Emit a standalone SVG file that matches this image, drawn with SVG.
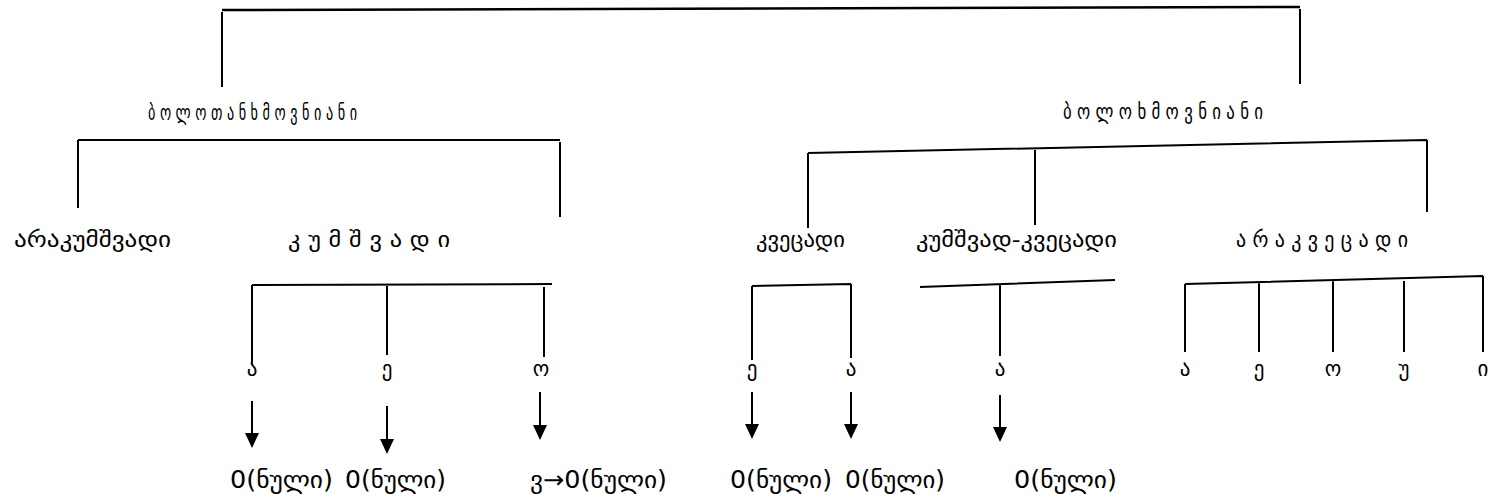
<svg xmlns="http://www.w3.org/2000/svg" width="1494" height="504" viewBox="0 0 1494 504">
<style>
text{font-family:"DejaVu Sans","Noto Sans",sans-serif;font-size:21px;fill:#000;}
.c{text-anchor:middle;}
.t{font-size:22px;}
.b{font-size:24px;}
.ln{stroke:#000;stroke-width:2;fill:none;}
.tk{stroke:#000;stroke-width:2.5;fill:none;}
.ah{fill:#000;}
</style>
<rect width="1494" height="504" fill="#fff"/>
<g id="connectors">
<path class="tk" d="M222,10 L1300,7"/>
<path class="ln" d="M222,12 V87 M1300,9 V84"/>
<path class="ln" d="M78,140 H560 M78,140 V208 M560,142 V217"/>
<path class="ln" d="M252,285 L552,284 M252,285 V364 M387,286 V355 M544,287 V357"/>
<path class="ln" d="M808,153 L1427,140 M808,153 V228 M1035,150 V225 M1427,140 V212"/>
<path class="ln" d="M752,286 L851,284 M752,286 V360 M851,284 V358"/>
<path class="ln" d="M920,287 L1115,280 M1000,284 V356"/>
<path class="ln" d="M1185,284 L1483,276 M1185,284 V352 M1259,282 V352 M1333,281 V352 M1404,281 V352 M1483,276 V352"/>
<path class="ln" d="M252,401 V434 M387,406 V440 M540,392 V426 M752,392 V425 M851,392 V425 M1000,395 V428"/>
<path class="ah" d="M245,433 L259,433 L252,448 Z M380,439 L394,439 L387,454 Z M533,425 L547,425 L540,440 Z M745,424 L759,424 L752,439 Z M844,424 L858,424 L851,439 Z M993,427 L1007,427 L1000,442 Z"/>
</g>
<g id="n-root1"><text class="t" x="148" y="120" textLength="209" lengthAdjust="spacingAndGlyphs">ბ ო ლ ო თ ა ნ ხ მ ო ვ ნ ი ა ნ ი</text></g>
<g id="n-root2"><text class="t" x="1063" y="119" textLength="200" lengthAdjust="spacingAndGlyphs">ბ ო ლ ო ხ მ ო ვ ნ ი ა ნ ი</text></g>
<g id="n-arakumshvadi"><text x="14" y="247" textLength="157" lengthAdjust="spacingAndGlyphs">არაკუმშვადი</text></g>
<g id="n-kumshvadi"><text x="288" y="247" textLength="162" lengthAdjust="spacingAndGlyphs">კ უ მ შ ვ ა დ ი</text></g>
<g id="n-kvetsadi"><text x="756" y="247" textLength="89" lengthAdjust="spacingAndGlyphs">კვეცადი</text></g>
<g id="n-kumshvad-kvetsadi"><text x="916" y="247" textLength="201" lengthAdjust="spacingAndGlyphs">კუმშვად-კვეცადი</text></g>
<g id="n-arakvetsadi"><text x="1236" y="247" textLength="172" lengthAdjust="spacingAndGlyphs">ა რ ა კ ვ ე ც ა დ ი</text></g>
<g id="n-v1"><text class="c" x="252" y="376">ა</text></g>
<g id="n-v2"><text class="c" x="387" y="376">ე</text></g>
<g id="n-v3"><text class="c" x="541" y="376">ო</text></g>
<g id="n-v4"><text class="c" x="752" y="376">ე</text></g>
<g id="n-v5"><text class="c" x="851" y="376">ა</text></g>
<g id="n-v6"><text class="c" x="1000" y="376">ა</text></g>
<g id="n-v7"><text class="c" x="1185" y="376">ა</text></g>
<g id="n-v8"><text class="c" x="1259" y="376">ე</text></g>
<g id="n-v9"><text class="c" x="1333" y="376">ო</text></g>
<g id="n-v10"><text class="c" x="1404" y="376">უ</text></g>
<g id="n-v11"><text class="c" x="1483" y="376">ი</text></g>
<g id="n-z1"><text class="b" x="230" y="488" textLength="103" lengthAdjust="spacingAndGlyphs">0(ნული)</text></g>
<g id="n-z2"><text class="b" x="345" y="488" textLength="101" lengthAdjust="spacingAndGlyphs">0(ნული)</text></g>
<g id="n-z3"><text class="b" x="530" y="488" textLength="137" lengthAdjust="spacingAndGlyphs">ვ→0(ნული)</text></g>
<g id="n-z4"><text class="b" x="730" y="488" textLength="102" lengthAdjust="spacingAndGlyphs">0(ნული)</text></g>
<g id="n-z5"><text class="b" x="845" y="488" textLength="100" lengthAdjust="spacingAndGlyphs">0(ნული)</text></g>
<g id="n-z6"><text class="b" x="1014" y="488" textLength="103" lengthAdjust="spacingAndGlyphs">0(ნული)</text></g>
</svg>
